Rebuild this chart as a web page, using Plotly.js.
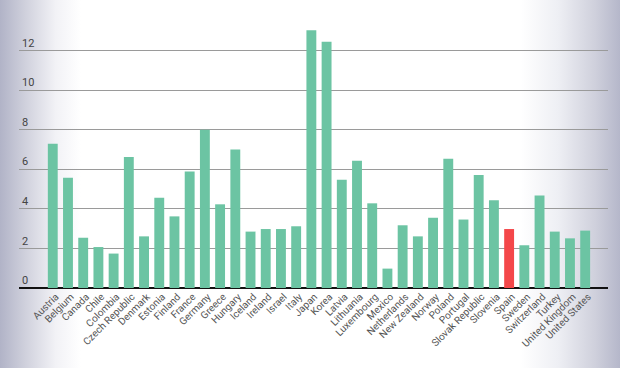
<!DOCTYPE html>
<html>
<head>
<meta charset="utf-8">
<script src="https://cdn.plot.ly/plotly-3.0.1.min.js"></script>
<style>
  html, body { margin: 0; padding: 0; }
  body {
    width: 620px; height: 368px; overflow: hidden;
    background: linear-gradient(to right, #b1b3c7 0%, #cfd0dc 4%, #f2f2f6 9%, #ffffff 13%, #ffffff 84%, #eeeff4 90%, #cfd0dc 96%, #b5b7ca 100%);
  }
  #chart { width: 620px; height: 368px; }
</style>
</head>
<body>
<div id="chart"></div>
<script>
const countries = ["Austria","Belgium","Canada","Chile","Colombia","Czech Republic","Denmark","Estonia","Finland","France","Germany","Greece","Hungary","Iceland","Ireland","Israel","Italy","Japan","Korea","Latvia","Lithuania","Luxembourg","Mexico","Netherlands","New Zealand","Norway","Poland","Portugal","Slovak Republic","Slovenia","Spain","Sweden","Switzerland","Turkey","United Kingdom","United States"];
const values = [7.29,5.57,2.54,2.07,1.74,6.62,2.61,4.56,3.62,5.89,8.0,4.23,7.0,2.85,2.98,2.98,3.12,13.03,12.45,5.47,6.43,4.28,0.98,3.17,2.61,3.55,6.53,3.46,5.71,4.43,2.98,2.16,4.67,2.85,2.51,2.90];
const highlight = "Spain";
const yTicks = [0,2,4,6,8,10,12];

const barColor = "#6cc4a3";
const highlightColor = "#f4474a";
const colors = countries.map(c => c === highlight ? highlightColor : barColor);

const trace = {
  type: "bar",
  x: countries.map((c, i) => i),
  y: values,
  marker: { color: colors, line: { width: 0 } },
  hoverinfo: "none"
};

const layout = {
  width: 620, height: 368,
  margin: { l: 19, r: 12, t: 11, b: 80 },
  paper_bgcolor: "rgba(0,0,0,0)",
  plot_bgcolor: "rgba(0,0,0,0)",
  bargap: 0.35,
  showlegend: false,
  font: { family: "Roboto, sans-serif", color: "#444" },
  xaxis: {
    range: [-2.22, 36.5],
    tickmode: "array",
    tickvals: countries.map((c, i) => i + 0.2),
    ticktext: countries,
    tickangle: -45,
    tickfont: { size: 10, color: "#555", family: "Roboto, sans-serif" },
    showgrid: false,
    zeroline: false,
    showline: false,
    ticks: "",
    ticklen: 0
  },
  yaxis: {
    range: [0, 14],
    tickmode: "array",
    tickvals: yTicks,
    ticktext: yTicks.map(String),
    ticklabelposition: "inside top",
    tickfont: { size: 11, color: "#444", family: "Roboto, sans-serif" },
    showgrid: true,
    gridcolor: "#9a9a9a",
    gridwidth: 1,
    zeroline: true,
    zerolinecolor: "#111111",
    zerolinewidth: 2,
    showline: false,
    ticks: ""
  }
};

Plotly.newPlot("chart", [trace], layout, { staticPlot: true, displayModeBar: false });
</script>
</body>
</html>
